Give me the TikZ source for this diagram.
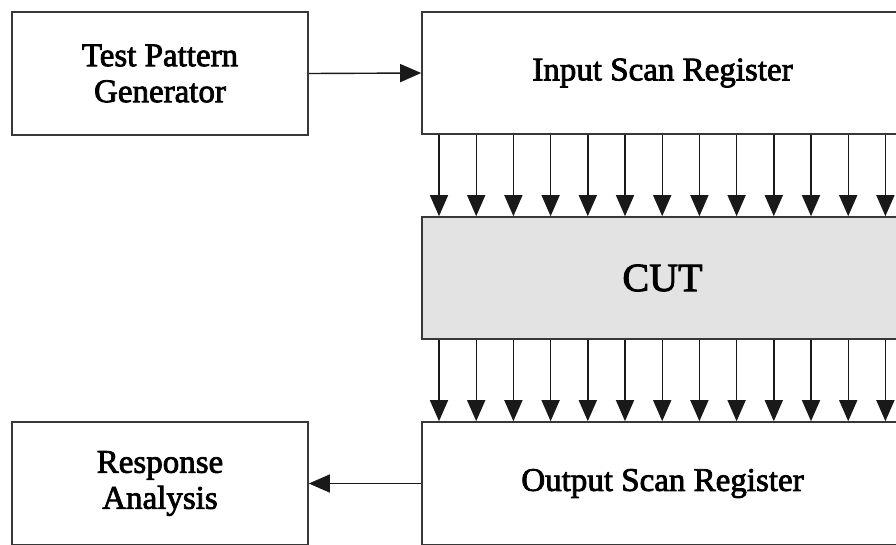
\documentclass[tikz,border=0pt]{standalone}
\usepackage{fontspec}
\setmainfont{Liberation Serif}
\newfontfamily\lblfont[FakeBold=2.4]{Liberation Serif}
\usetikzlibrary{arrows.meta}

\begin{document}
\begin{tikzpicture}[x=1pt,y=-1pt,
  block/.style={draw=black!78, line width=1.6pt, rectangle, inner sep=0pt,
    align=center, font=\lblfont\fontsize{33}{36}\selectfont},
  cutbox/.style={block, fill=black!11, font=\lblfont\fontsize{40}{40}\selectfont},
  link/.style={draw=black!90, line width=1.4pt,
    -{Triangle[length=21pt,width=18pt]}}
]
\useasboundingbox (0,0) rectangle (896,544);

% left column: generator and analyser
\node[block, minimum width=296pt, minimum height=123pt] (tpg) at (160,73.5)
  {Test Pattern\\Generator};
\node[block, minimum width=296pt, minimum height=123pt] (ra) at (160,483.5)
  {Response\\Analysis};

% right column: scan registers around the circuit under test
\node[block, minimum width=481pt, minimum height=122pt] (isr) at (662.5,73)
  {Input Scan Register};
\node[cutbox, minimum width=481pt, minimum height=122pt] (cut) at (662.5,278)
  {CUT};
\node[block, minimum width=481pt, minimum height=123pt] (osr) at (662.5,483.5)
  {Output Scan Register};

% serial connections
\draw[link] (tpg.east) -- (isr.west);
\draw[link] (osr.west) -- (ra.east);

% parallel lines between registers and the CUT
\foreach \k in {0,...,12} {
  \coordinate (col\k) at ({439+37.2*\k},0);
  \draw[link] (isr.south -| col\k) -- (cut.north -| col\k);
  \draw[link] (cut.south -| col\k) -- (osr.north -| col\k);
}
\end{tikzpicture}
\end{document}
